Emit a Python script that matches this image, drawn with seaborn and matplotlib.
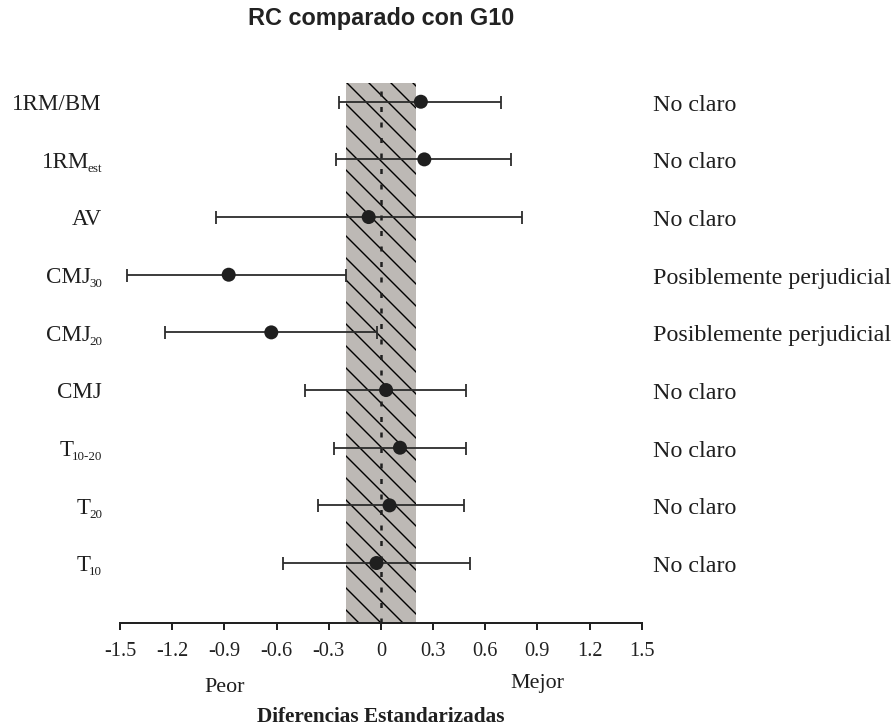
import numpy as np
import pandas as pd
import matplotlib
matplotlib.use("Agg")
import matplotlib.pyplot as plt
import seaborn as sns
from matplotlib import transforms as mtrans

# ---------------- data ----------------
categories = ["1RM/BM", "1RMest", "AV", "CMJ30", "CMJ20", "CMJ", "T10-20", "T20", "T10"]
label_main = ["1RM/BM", "1RM", "AV", "CMJ", "CMJ", "CMJ", "T", "T", "T"]
label_sub = ["", "est", "", "30", "20", "", "10-20", "20", "10"]
effect = [0.23, 0.25, -0.07, -0.875, -0.63, 0.03, 0.11, 0.05, -0.025]
ci_lower = [-0.24, -0.26, -0.95, -1.46, -1.24, -0.435, -0.27, -0.36, -0.56]
ci_upper = [0.69, 0.75, 0.81, -0.20, -0.02, 0.49, 0.49, 0.48, 0.515]
inference = ["No claro", "No claro", "No claro",
             "Posiblemente perjudicial", "Posiblemente perjudicial",
             "No claro", "No claro", "No claro", "No claro"]
xticks = [-1.5, -1.2, -0.9, -0.6, -0.3, 0, 0.3, 0.6, 0.9, 1.2, 1.5]
xtick_labels = ["-1.5", "-1.2", "-0.9", "-0.6", "-0.3", "0", "0.3", "0.6", "0.9", "1.2", "1.5"]
trivial_band = [-0.2, 0.2]
title = "RC comparado con G10"
xlabel = "Diferencias Estandarizadas"
side_labels = ["Peor", "Mejor"]
side_pos = [-0.9, 0.9]

# ---------------- setup ----------------
DPI = 132
W, H = 894, 726


def pt(px):
    return px * 72.0 / DPI


sns.set_theme(style="white")
plt.rcParams["font.family"] = ["Liberation Serif", "DejaVu Serif"]
plt.rcParams["hatch.linewidth"] = pt(1.4)

fig = plt.figure(figsize=(W / DPI, H / DPI), dpi=DPI)
ax_left, ax_right, ax_top, ax_bottom = 120.0, 641.7, 82.7, 623.0
ax = fig.add_axes([ax_left / W, 1 - ax_bottom / H, (ax_right - ax_left) / W, (ax_bottom - ax_top) / H])

n = len(categories)
df = pd.DataFrame({
    "metric": categories,
    "pos": np.arange(n),
    "effect": effect,
    "lo": ci_lower,
    "hi": ci_upper,
})

ink = "#1f1f1f"

# trivial band
ax.axvspan(trivial_band[0], trivial_band[1], facecolor="#bdb9b5", edgecolor="black",
           linewidth=0, hatch="\\\\", zorder=1)
# zero line
ax.axvline(0, color=ink, lw=pt(2.5), dashes=(2.0, 4.2), zorder=2)

# confidence intervals
ax.errorbar(df["effect"], df["pos"],
            xerr=[df["effect"] - df["lo"], df["hi"] - df["effect"]],
            fmt="none", ecolor="#2b2b2b", elinewidth=pt(1.8),
            capsize=pt(6.5), capthick=pt(1.8), zorder=3)
# points
sns.scatterplot(data=df, x="effect", y="pos", ax=ax, s=pt(14) ** 2,
                color=ink, edgecolor="none", linewidth=0, zorder=4, legend=False)

ax.set_xlim(-1.5, 1.5)
ax.set_ylim(9.04, -0.33)

for s in ["top", "right", "left"]:
    ax.spines[s].set_visible(False)
ax.spines["bottom"].set_linewidth(pt(2))
ax.spines["bottom"].set_color("#222222")

ax.set_xticks(xticks, xtick_labels)
ax.tick_params(axis="x", direction="out", length=pt(7), width=pt(2), color="#222222",
               labelsize=pt(20.4), labelcolor="#222222", pad=pt(12.5), bottom=True)
ax.set_yticks([])
ax.set_xlabel("")
ax.set_ylabel("")
ax.grid(False)

# ---------------- row labels ----------------
fig.canvas.draw()
renderer = fig.canvas.get_renderer()
ytrans = ax.get_yaxis_transform()
xr = (102.0 - ax_left) / (ax_right - ax_left)
main_fs = pt(23)
sub_fs = pt(13)
base_off = -8.3
for i in range(n):
    main = label_main[i]
    sub = label_sub[i]
    w = 0.0
    if sub:
        tr_sub = mtrans.offset_copy(ytrans, fig=fig, x=0, y=base_off - 4.0, units="dots")
        ts = ax.text(xr, i, sub, ha="right", va="baseline", fontsize=sub_fs,
                     color=ink, transform=tr_sub, clip_on=False)
        w = ts.get_window_extent(renderer).width - 1.5
    tr_main = mtrans.offset_copy(ytrans, fig=fig, x=-w, y=base_off, units="dots")
    ax.text(xr, i, main, ha="right", va="baseline", fontsize=main_fs,
            color=ink, transform=tr_main, clip_on=False)

# inference labels
for i in range(n):
    tr = mtrans.offset_copy(ax.transData, fig=fig, x=0, y=-9.0, units="dots")
    ax.text(1.565, i, inference[i], ha="left", va="baseline", fontsize=pt(24),
            color=ink, transform=tr, clip_on=False)

# side labels and x label
blend = mtrans.blended_transform_factory(ax.transData, fig.transFigure)
ax.text(side_pos[0], 1 - 691.5 / H, side_labels[0], ha="center", va="baseline",
        fontsize=pt(22), color=ink, transform=blend, clip_on=False)
ax.text(side_pos[1], 1 - 688.0 / H, side_labels[1], ha="center", va="baseline",
        fontsize=pt(22), color=ink, transform=blend, clip_on=False)
ax.text(0, 1 - 722.5 / H, xlabel, ha="center", va="baseline", fontsize=pt(21.2),
        fontweight="bold", color=ink, transform=blend, clip_on=False)

fig.text(381 / W, 1 - 19 / H, title, ha="center", va="center", fontsize=pt(23.5),
         fontweight="bold", family="Liberation Sans", color="#222222")

fig.savefig("out.png", dpi=DPI)
